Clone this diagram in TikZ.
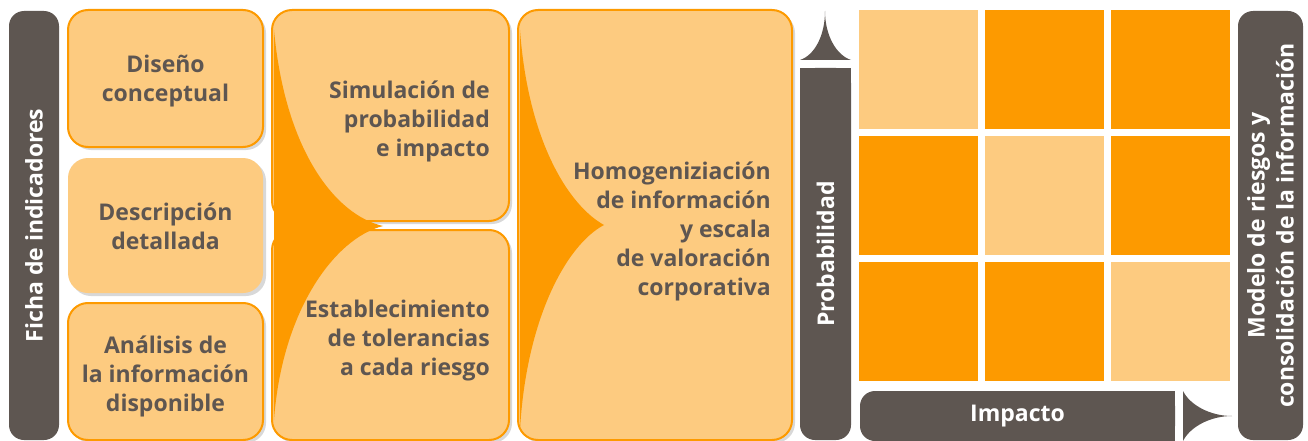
\documentclass[tikz,border=0pt]{standalone}
\usepackage{fontspec}
\setmainfont{Open Sans}
\usetikzlibrary{shadows}
\definecolor{barbrown}{HTML}{5E5651}
\definecolor{paleorange}{HTML}{FDCB80}
\definecolor{deeporange}{HTML}{FD9A00}
\definecolor{textgrey}{HTML}{5E5651}

\begin{document}
\begin{tikzpicture}
[x=1pt, y=-1pt, every node/.style={font=\bfseries\fontsize{23}{29}\selectfont}, stage box/.style={draw=deeporange, line width=2pt, fill=paleorange, rounded corners=20pt, inner sep=0pt, drop shadow={opacity=0.3, shadow xshift=3pt, shadow yshift=-3pt}}, box text/.style={text=textgrey, inner sep=0pt}, dark bar/.style={fill=barbrown, rounded corners=15pt, text=white, inner sep=0pt, align=center}, swoosh/.style={fill=deeporange}, cell/.style={minimum size=119pt, inner sep=0pt}]
    \useasboundingbox (0,0) rectangle (1308,441);
    \fill[white] (0,0) rectangle (1308,441);
    % left column
    \node[dark bar, rotate=90, minimum width=429pt, minimum height=50pt] (ficha) at (34,225.5) {Ficha de indicadores};
    \node[stage box, minimum width=195pt, minimum height=137pt] (diseno) at (165.5,78.5) {};
    \node[stage box, draw=none, minimum width=195pt, minimum height=135pt] (descripcion) at (165.5,225.5) {};
    \node[stage box, minimum width=195pt, minimum height=137pt] (analisis) at (165.5,371.5) {};
    \node[box text, align=center] (diseno-text) at (165.5,81.5) {Diseño\\conceptual};
    \node[box text, align=center] (descripcion-text) at (165.5,226.5) {Descripción\\detallada};
    \node[box text, align=center] (analisis-text) at (165.5,376.5) {Análisis de\\la información\\disponible};
    % middle
    \node[stage box, minimum width=237pt, minimum height=211pt] (simulacion) at (390.5,115.5) {};
    \node[stage box, minimum width=237pt, minimum height=210pt] (tolerancias) at (390.5,335) {};
    \node[stage box, minimum width=274pt, minimum height=430pt] (homog) at (655,225) {};
    \fill[swoosh] (274,30) .. controls (285,150) and (335,215) .. (383,226) .. controls (335,238) and (282,310) .. (274,420) -- cycle;
    \fill[swoosh] (520,30) .. controls (528,140) and (568,205) .. (604,225) .. controls (566,245) and (526,320) .. (520,430) -- cycle;
    \node[box text, anchor=east, align=right] (simulacion-text) at (490,121.5) {Simulación de\\probabilidad\\e impacto};
    \node[box text, anchor=east, align=right] (tolerancias-text) at (490,341) {Establecimiento\\de tolerancias\\a cada riesgo};
    \node[box text, anchor=east, align=right] (homog-text) at (771,231) {Homogeniziación\\de información\\y escala\\de valoración\\corporativa};
    % axes
    \node[dark bar, rotate=90, minimum width=372pt, minimum height=51pt] (prob) at (825.5,254) {Probabilidad};
    \fill[barbrown] (800,68) rectangle (851,90);
    \fill[barbrown] (800,60) .. controls (815,55) and (825,35) .. (825,11) .. controls (825,35) and (836,55) .. (851,60) -- cycle;
    \node[dark bar, minimum width=315pt, minimum height=50pt] (impacto) at (1017.5,416) {Impacto};
    \fill[barbrown] (1150,391) rectangle (1175,441);
    \fill[barbrown] (1183,391) .. controls (1190,405) and (1210,416) .. (1232,416) .. controls (1210,416) and (1190,427) .. (1183,441) -- cycle;
    % matrix
    \foreach \r in {0,1,2}{
      \foreach \c in {0,1,2}{
        \ifnum\r=\c \def\tone{paleorange}\else \def\tone{deeporange}\fi
        \node[cell, fill=\tone] (cell-\r-\c) at (918.5+126*\c,69.5+126*\r) {};
      }
    }
    \node[dark bar, rotate=90, minimum width=429pt, minimum height=65pt] (modelo) at (1270.5,225.5) {Modelo de riesgos y\\consolidación de la información};
\end{tikzpicture}
\end{document}
